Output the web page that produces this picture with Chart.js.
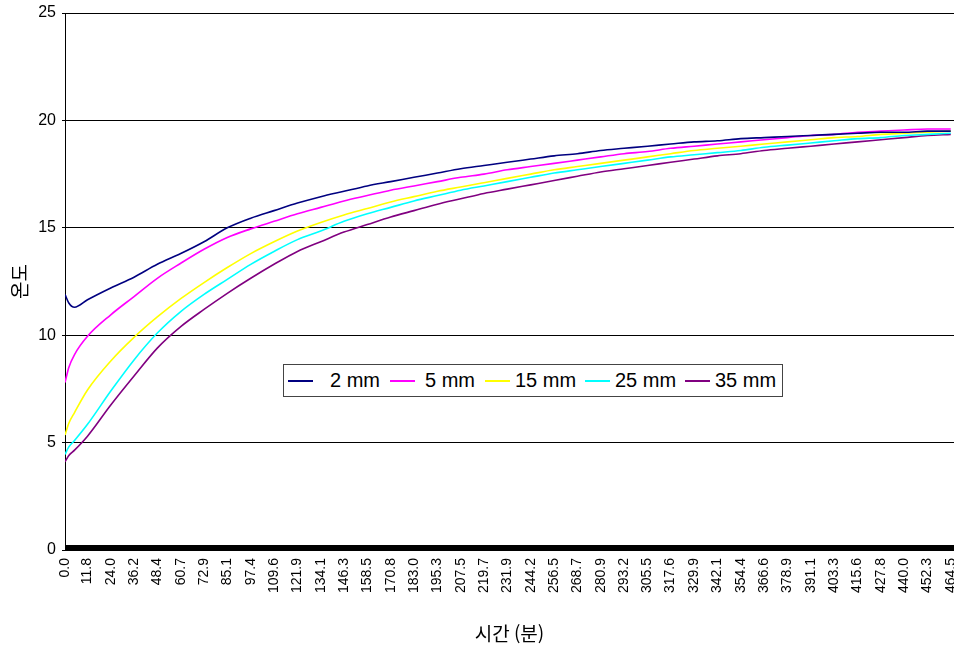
<!DOCTYPE html>
<html lang="ko">
<head>
<meta charset="UTF-8" />
<title>온도 - 시간</title>
<script src="https://cdn.jsdelivr.net/npm/chart.js@4.4.0/dist/chart.umd.min.js"></script>
<style>
  body { margin: 0; background: #fff; }
  #wrap { position: relative; width: 954px; height: 645px; }
  #legend {
    position: absolute; left: 283px; top: 364px; width: 498px; height: 31px;
    border: 1px solid #444; background: #fff; display: flex; align-items: center;
    font-family: "Liberation Sans", Arial, sans-serif; font-size: 20px; color: #000;
    white-space: nowrap;
  }
  #legend .item { display: flex; align-items: center; width: 100px; flex: none; }
  #legend .swatch { width: 25px; height: 0; border-top: 2px solid; margin-left: 1px; margin-right: 5px; }
  #legend .item:nth-child(1) .swatch { margin-left: 4px; margin-right: 17px; }
  #legend .item:nth-child(2) .swatch { margin-left: 6px; margin-right: 10px; }
</style>
</head>
<body>
<div id="wrap">
  <canvas id="chart" width="954" height="645"></canvas>
  <div id="legend"></div>
</div>
<script>
// time (min) and temperature readings per depth
const timeMin = [0, 2, 5, 11.8, 24.0, 36.2, 48.4, 60.7, 72.9, 85.1, 97.4, 109.6, 121.9, 134.1,
  146.3, 158.5, 170.8, 183.0, 195.3, 207.5, 219.7, 231.9, 244.2, 256.5, 268.7, 280.9, 293.2,
  305.5, 317.6, 329.9, 342.1, 354.4, 366.6, 378.9, 391.1, 403.3, 415.6, 427.8, 440.0, 452.3, 464.5];

const tickLabels = ['0.0', '11.8', '24.0', '36.2', '48.4', '60.7', '72.9', '85.1', '97.4', '109.6',
  '121.9', '134.1', '146.3', '158.5', '170.8', '183.0', '195.3', '207.5', '219.7', '231.9', '244.2',
  '256.5', '268.7', '280.9', '293.2', '305.5', '317.6', '329.9', '342.1', '354.4', '366.6', '378.9',
  '391.1', '403.3', '415.6', '427.8', '440.0', '452.3', '464.5'];

const t2mm = [11.9, 11.5, 11.3, 11.65, 12.2, 12.7, 13.3, 13.8, 14.35, 15.0, 15.45, 15.8, 16.15, 16.45,
  16.7, 16.95, 17.15, 17.35, 17.55, 17.75, 17.9, 18.05, 18.2, 18.35, 18.45, 18.6, 18.7,
  18.8, 18.9, 19.0, 19.05, 19.15, 19.2, 19.25, 19.3, 19.35, 19.4, 19.45, 19.45, 19.5, 19.5];
const t5mm = [7.8, 8.5, 9.1, 9.95, 10.95, 11.8, 12.65, 13.35, 14.0, 14.55, 14.95, 15.3, 15.65, 15.95,
  16.25, 16.5, 16.75, 16.95, 17.15, 17.35, 17.5, 17.7, 17.85, 18.0, 18.15, 18.3, 18.45,
  18.55, 18.7, 18.8, 18.9, 19.0, 19.1, 19.2, 19.3, 19.35, 19.45, 19.5, 19.55, 19.6, 19.6];
const t15mm = [5.35, 5.9, 6.4, 7.45, 8.8, 9.9, 10.85, 11.7, 12.45, 13.15, 13.8, 14.35, 14.85, 15.25,
  15.6, 15.9, 16.2, 16.45, 16.7, 16.9, 17.1, 17.3, 17.5, 17.7, 17.85, 18.0, 18.15,
  18.3, 18.45, 18.6, 18.7, 18.8, 18.9, 19.0, 19.1, 19.2, 19.25, 19.35, 19.4, 19.45, 19.5];
const t25mm = [4.45, 4.8, 5.1, 5.85, 7.4, 8.85, 10.1, 11.1, 11.9, 12.6, 13.3, 13.9, 14.45, 14.85,
  15.3, 15.65, 15.95, 16.25, 16.5, 16.75, 16.95, 17.15, 17.35, 17.55, 17.7, 17.85, 18.0,
  18.15, 18.3, 18.4, 18.5, 18.6, 18.75, 18.85, 18.95, 19.05, 19.15, 19.2, 19.3, 19.35, 19.4];
const t35mm = [4.1, 4.4, 4.65, 5.3, 6.75, 8.1, 9.4, 10.4, 11.2, 11.95, 12.65, 13.3, 13.9, 14.35,
  14.8, 15.15, 15.5, 15.8, 16.1, 16.35, 16.6, 16.8, 17.0, 17.2, 17.4, 17.6, 17.75,
  17.9, 18.05, 18.2, 18.35, 18.45, 18.6, 18.7, 18.8, 18.9, 19.0, 19.1, 19.2, 19.3, 19.35];

const seriesNames = ['2 mm', '5 mm', '15 mm', '25 mm', '35 mm'];
const seriesColors = ['#000080', '#ff00ff', '#ffff00', '#00ffff', '#800080'];

const tickValues = tickLabels.map(Number);

function toPoints(ys) {
  return ys.map((y, i) => ({ x: timeMin[i], y: y }));
}

const datasets = [t2mm, t5mm, t15mm, t25mm, t35mm].map((ys, i) => ({
  label: seriesNames[i],
  data: toPoints(ys),
  borderColor: seriesColors[i],
  backgroundColor: seriesColors[i],
  borderWidth: 1.6,
  pointRadius: 0,
  cubicInterpolationMode: 'monotone',
  fill: false,
}));

const ctx = document.getElementById('chart').getContext('2d');
const myChart = new Chart(ctx, {
  type: 'line',
  data: { datasets: datasets },
  options: {
    responsive: false,
    animation: false,
    layout: { padding: { top: 13, right: 0, left: 8, bottom: 0 } },
    plugins: {
      legend: { display: false },
      tooltip: { enabled: false },
    },
    scales: {
      x: {
        type: 'linear',
        min: 0,
        max: 466.2,
        // lots of little tick marks like the excel category axis, labels only on some
        afterBuildTicks: function (scale) {
          const ticks = [];
          for (let v = 0; v <= 466; v += 0.5) {
            if (!tickValues.some((t) => Math.abs(t - v) < 0.05)) ticks.push({ value: v });
          }
          tickValues.forEach((v) => ticks.push({ value: v }));
          ticks.sort((a, b) => a.value - b.value);
          scale.ticks = ticks;
        },
        afterFit: function (scale) {
          scale.height = 95;
          // don't let the last rotated label push the plot in from the right
          scale.paddingRight = 0;
          scale.paddingLeft = 0;
        },
        ticks: {
          autoSkip: false,
          minRotation: 90,
          maxRotation: 90,
          padding: 13,
          color: '#000',
          font: { family: '"Liberation Sans", Arial, sans-serif', size: 14 },
          callback: function (value) {
            const idx = tickValues.indexOf(value);
            return idx >= 0 ? tickLabels[idx] : '';
          },
        },
        // negative length so the marks sit just above the axis line
        grid: { drawOnChartArea: false, color: '#000', tickLength: -5, tickWidth: 1 },
        border: { color: '#000', width: 1 },
        title: {
          display: true,
          text: '시간 (분)',
          color: '#000',
          font: { family: '"Noto Sans CJK KR", sans-serif', size: 19 },
          padding: { top: 0, bottom: 0 },
        },
      },
      y: {
        min: 0,
        max: 25,
        afterFit: function (scale) {
          scale.width = 57;
          scale.paddingTop = 0;
        },
        ticks: {
          stepSize: 5,
          color: '#000',
          padding: 6,
          font: { family: '"Liberation Sans", Arial, sans-serif', size: 16 },
        },
        grid: { color: '#000', tickLength: 3 },
        border: { color: '#000', width: 1 },
        title: {
          display: true,
          text: '온도',
          color: '#000',
          font: { family: '"Noto Sans CJK KR", sans-serif', size: 19 },
          padding: 0,
        },
      },
    },
  },
});

// legend box sits inside the plot like the original
const legendEl = document.getElementById('legend');
myChart.data.datasets.forEach((ds) => {
  const item = document.createElement('div');
  item.className = 'item';
  const sw = document.createElement('div');
  sw.className = 'swatch';
  sw.style.borderTopColor = ds.borderColor;
  const txt = document.createElement('span');
  txt.textContent = ds.label;
  item.appendChild(sw);
  item.appendChild(txt);
  legendEl.appendChild(item);
});
</script>
</body>
</html>
